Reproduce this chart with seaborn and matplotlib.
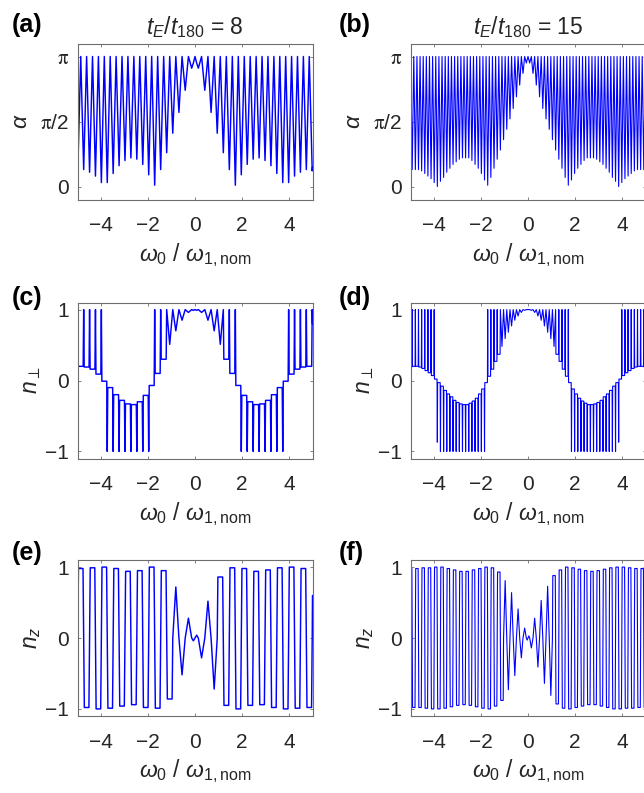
import matplotlib
matplotlib.use("Agg")
import numpy as np
import matplotlib.pyplot as plt
import seaborn as sns

# ---------------------------------------------------------------------------
# Knots of the curves along omega0 / omega1,nom: tooth tops, minima, cusps and
# zero crossings.  alpha is given in units of pi.
# ---------------------------------------------------------------------------

# t_E / t_180 = 8
omega8 = [
    -5.0, -4.988, -4.862, -4.737, -4.612, -4.486, -4.361, -4.236, -4.110, -3.985,
    -3.859, -3.734, -3.608, -3.482, -3.357, -3.231, -3.105, -2.980, -2.854, -2.728,
    -2.602, -2.476, -2.350, -2.223, -2.097, -1.970, -1.843, -1.716, -1.589, -1.461,
    -1.333, -1.205, -1.076, -0.946, -0.816, -0.684, -0.551, -0.417, -0.280, -0.141,
    -0.070, 0.0,
    0.070, 0.141, 0.280, 0.417, 0.551, 0.684, 0.816, 0.946, 1.076, 1.205,
    1.333, 1.461, 1.589, 1.716, 1.843, 1.970, 2.097, 2.223, 2.350, 2.476,
    2.602, 2.728, 2.854, 2.980, 3.105, 3.231, 3.357, 3.482, 3.608, 3.734,
    3.859, 3.985, 4.110, 4.236, 4.361, 4.486, 4.612, 4.737, 4.862, 4.988, 5.0,
]
alpha8_pi = [
    0.15, 0.12, 1, 0.13, 1, 0.11, 1, 0.08, 1, 0.03,
    1, 0.03, 1, 0.10, 1, 0.16, 1, 0.20, 1, 0.22,
    1, 0.21, 1, 0.17, 1, 0.09, 1, 0.01, 1, 0.13,
    1, 0.26, 1, 0.41, 1, 0.57, 1, 0.74, 1, 0.91,
    0.95, 1,
    0.95, 0.91, 1, 0.74, 1, 0.57, 1, 0.41, 1, 0.26,
    1, 0.13, 1, 0.01, 1, 0.09, 1, 0.17, 1, 0.21,
    1, 0.22, 1, 0.20, 1, 0.16, 1, 0.10, 1, 0.03,
    1, 0.03, 1, 0.08, 1, 0.11, 1, 0.13, 1, 0.12, 0.15,
]
nperp8 = [
    0.80, 1, 0.20, 1, 0.19, 1, 0.16, 1, 0.09, 1,
    -0.01, -1, -0.10, -1, -0.20, -1, -0.28, -1, -0.33, -1,
    -0.34, -1, -0.30, -1, -0.21, -1, -0.07, 1, 0.10, 1,
    0.30, 1, 0.51, 1, 0.70, 1, 0.85, 1, 0.96, 1,
    0.99, 1.00,
    0.99, 1, 0.96, 1, 0.85, 1, 0.70, 1, 0.51, 1,
    0.30, 1, 0.10, 1, -0.07, -1, -0.21, -1, -0.30, -1,
    -0.34, -1, -0.33, -1, -0.28, -1, -0.20, -1, -0.10, -1,
    -0.01, 1, 0.09, 1, 0.16, 1, 0.19, 1, 0.20, 1, 0.80,
]
nz8 = [
    -0.60, 0, 0.98, 0, -0.98, 0, 0.99, 0, -1.00, 0,
    1.00, 0, -0.99, 0, 0.98, 0, -0.96, 0, 0.94, 0,
    -0.94, 0, 0.95, 0, -0.98, 0, 1.00, 0, -0.99, 0,
    0.95, 0, -0.86, 0, 0.72, 0, -0.52, 0, 0.28, 0,
    -0.04, 0,
    0.04, 0, -0.28, 0, 0.52, 0, -0.72, 0, 0.86, 0,
    -0.95, 0, 0.99, 0, -1.00, 0, 0.98, 0, -0.95, 0,
    0.94, 0, -0.94, 0, 0.96, 0, -0.98, 0, 0.99, 0,
    -1.00, 0, 1.00, 0, -0.99, 0, 0.98, 0, -0.98, 0, 0.60,
]

# t_E / t_180 = 15
omega15 = [
    -5.0, -4.993, -4.927, -4.860, -4.793, -4.726, -4.660, -4.593, -4.526, -4.459,
    -4.393, -4.326, -4.259, -4.192, -4.125, -4.059, -3.992, -3.925, -3.858, -3.791,
    -3.725, -3.658, -3.591, -3.524, -3.457, -3.390, -3.324, -3.257, -3.190, -3.123,
    -3.056, -2.989, -2.922, -2.855, -2.788, -2.722, -2.655, -2.588, -2.521, -2.454,
    -2.387, -2.320, -2.253, -2.186, -2.118, -2.051, -1.984, -1.917, -1.850, -1.783,
    -1.715, -1.648, -1.581, -1.513, -1.446, -1.378, -1.311, -1.243, -1.176, -1.108,
    -1.040, -0.972, -0.904, -0.836, -0.767, -0.699, -0.630, -0.561, -0.492, -0.422,
    -0.353, -0.283, -0.213, -0.142, -0.071, -0.035,
    0.0,
    0.035, 0.071, 0.142, 0.213, 0.283, 0.353, 0.422, 0.492, 0.561, 0.630,
    0.699, 0.767, 0.836, 0.904, 0.972, 1.040, 1.108, 1.176, 1.243, 1.311,
    1.378, 1.446, 1.513, 1.581, 1.648, 1.715, 1.783, 1.850, 1.917, 1.984,
    2.051, 2.118, 2.186, 2.253, 2.320, 2.387, 2.454, 2.521, 2.588, 2.655,
    2.722, 2.788, 2.855, 2.922, 2.989, 3.056, 3.123, 3.190, 3.257, 3.324,
    3.390, 3.457, 3.524, 3.591, 3.658, 3.725, 3.791, 3.858, 3.925, 3.992,
    4.059, 4.125, 4.192, 4.259, 4.326, 4.393, 4.459, 4.526, 4.593, 4.660,
    4.726, 4.793, 4.860, 4.927, 4.993, 5.0,
]
alpha15_pi = [
    0.91, 1, 0.13, 1, 0.13, 1, 0.13, 1, 0.12, 1,
    0.10, 1, 0.08, 1, 0.06, 1, 0.03, 1, 0.00, 1,
    0.04, 1, 0.07, 1, 0.11, 1, 0.14, 1, 0.17, 1,
    0.19, 1, 0.21, 1, 0.22, 1, 0.22, 1, 0.22, 1,
    0.20, 1, 0.17, 1, 0.14, 1, 0.10, 1, 0.05, 1,
    0.01, 1, 0.07, 1, 0.14, 1, 0.21, 1, 0.28, 1,
    0.36, 1, 0.44, 1, 0.52, 1, 0.60, 1, 0.69, 1,
    0.78, 1, 0.87, 1, 0.95, 0.975,
    1,
    0.975, 0.95, 1, 0.87, 1, 0.78, 1, 0.69, 1, 0.60,
    1, 0.52, 1, 0.44, 1, 0.36, 1, 0.28, 1, 0.21,
    1, 0.14, 1, 0.07, 1, 0.01, 1, 0.05, 1, 0.10,
    1, 0.14, 1, 0.17, 1, 0.20, 1, 0.22, 1, 0.22,
    1, 0.22, 1, 0.21, 1, 0.19, 1, 0.17, 1, 0.14,
    1, 0.11, 1, 0.07, 1, 0.04, 1, 0.00, 1, 0.03,
    1, 0.06, 1, 0.08, 1, 0.10, 1, 0.12, 1, 0.13,
    1, 0.13, 1, 0.13, 1, 0.91,
]
nperp15 = [
    0.20, 0.19, 1, 0.20, 1, 0.20, 1, 0.19, 1, 0.17,
    1, 0.14, 1, 0.11, 1, 0.07, 1, 0.02, -0.87, -0.03,
    -1, -0.08, -1, -0.14, -1, -0.19, -1, -0.23, -1, -0.28,
    -1, -0.31, -1, -0.33, -1, -0.34, -1, -0.34, -1, -0.32,
    -1, -0.29, -1, -0.25, -1, -0.19, -1, -0.12, -1, -0.03,
    1, 0.06, 1, 0.16, 1, 0.27, 1, 0.37, 1, 0.48,
    1, 0.59, 1, 0.68, 1, 0.77, 1, 0.85, 1, 0.91,
    1, 0.96, 1, 0.99, 1, 1.00,
    1.00,
    1.00, 1, 0.99, 1, 0.96, 1, 0.91, 1, 0.85, 1,
    0.77, 1, 0.68, 1, 0.59, 1, 0.48, 1, 0.37, 1,
    0.27, 1, 0.16, 1, 0.06, 1, -0.03, -1, -0.12, -1,
    -0.19, -1, -0.25, -1, -0.29, -1, -0.32, -1, -0.34, -1,
    -0.34, -1, -0.33, -1, -0.31, -1, -0.28, -1, -0.23, -1,
    -0.19, -1, -0.14, -1, -0.08, -1, -0.03, -0.87, 0.02, 1,
    0.07, 1, 0.11, 1, 0.14, 1, 0.17, 1, 0.19, 1,
    0.20, 1, 0.20, 1, 0.19, 0.20,
]
nz15 = [
    0.97, 0.98, 0, -0.98, 0, 0.98, 0, -0.98, 0, 0.99,
    0, -0.99, 0, 0.99, 0, -1.00, 0, 1.00, 0, -1.00,
    0, 1.00, 0, -0.99, 0, 0.98, 0, -0.97, 0, 0.96,
    0, -0.95, 0, 0.94, 0, -0.94, 0, 0.94, 0, -0.95,
    0, 0.96, 0, -0.97, 0, 0.98, 0, -0.99, 0, 1.00,
    0, -1.00, 0, 0.99, 0, -0.96, 0, 0.93, 0, -0.88,
    0, 0.81, 0, -0.73, 0, 0.64, 0, -0.53, 0, 0.41,
    0, -0.28, 0, 0.14, 0, -0.03,
    0,
    0.03, 0, -0.14, 0, 0.28, 0, -0.41, 0, 0.53, 0,
    -0.64, 0, 0.73, 0, -0.81, 0, 0.88, 0, -0.93, 0,
    0.96, 0, -0.99, 0, 1.00, 0, -1.00, 0, 0.99, 0,
    -0.98, 0, 0.97, 0, -0.96, 0, 0.95, 0, -0.94, 0,
    0.94, 0, -0.94, 0, 0.95, 0, -0.96, 0, 0.97, 0,
    -0.98, 0, 0.99, 0, -1.00, 0, 1.00, 0, -1.00, 0,
    1.00, 0, -0.99, 0, 0.99, 0, -0.99, 0, 0.98, 0,
    -0.98, 0, 0.98, 0, -0.98, -0.97,
]

ratios = ["8", "15"]
x_ticks = [-4, -2, 0, 2, 4]
panel_tags = [["(a)", "(b)"], ["(c)", "(d)"], ["(e)", "(f)"]]

for name, arr in [("alpha8", alpha8_pi), ("nperp8", nperp8), ("nz8", nz8)]:
    assert len(arr) == len(omega8), name
for name, arr in [("alpha15", alpha15_pi), ("nperp15", nperp15), ("nz15", nz15)]:
    assert len(arr) == len(omega15), name


# ---------------------------------------------------------------------------
# Path helpers: the rotation-axis components switch very steeply at the cusps
# and zero crossings, so those knots get near-vertical flanks.
# ---------------------------------------------------------------------------
def cusp_path(x, y, edge, floor=0.45):
    px, py = [], []
    n = len(x)
    for i in range(n):
        spike = 0 < i < n - 1 and abs(y[i]) >= 0.85
        if spike and abs(y[i - 1]) < floor and x[i] - edge > x[i - 1]:
            px.append(x[i] - edge)
            py.append(y[i - 1])
        px.append(x[i])
        py.append(y[i])
        if spike and abs(y[i + 1]) < floor and x[i] + edge < x[i + 1]:
            px.append(x[i] + edge)
            py.append(y[i + 1])
    return px, py


def plateau_path(x, y, edge, level=0.85):
    px, py = [], []
    n = len(x)
    for i in range(n):
        cross = 0 < i < n - 1 and y[i] == 0
        if cross and abs(y[i - 1]) >= level and x[i] - edge > x[i - 1]:
            px.append(x[i] - edge)
            py.append(y[i - 1])
        px.append(x[i])
        py.append(y[i])
        if cross and abs(y[i + 1]) >= level and x[i] + edge < x[i + 1]:
            px.append(x[i] + edge)
            py.append(y[i + 1])
    return px, py


# ---------------------------------------------------------------------------
# Styling
# ---------------------------------------------------------------------------
sns.set_theme(style="white")
plt.rcParams["font.family"] = ["Liberation Sans", "DejaVu Sans"]
plt.rcParams["mathtext.fontset"] = "custom"
plt.rcParams["mathtext.rm"] = "Liberation Sans"
plt.rcParams["mathtext.it"] = "Liberation Sans:italic"
plt.rcParams["mathtext.bf"] = "Liberation Sans:bold"
plt.rcParams["mathtext.sf"] = "Liberation Sans"
plt.rcParams["axes.unicode_minus"] = True

SPINE = "#6e6e6e"
TEXT = "#262626"
LINE = "#0000ff"
TICK_FS = 15
LABEL_FS = 16.5

W, H = 644, 793
fig = plt.figure(figsize=(W / 100, H / 100), dpi=100)


def add_axes(left_px, top_px, w_px, h_px):
    return fig.add_axes([left_px / W, 1 - (top_px + h_px) / H, w_px / W, h_px / H])


col_left = [77.5, 410.5]
row_top = [43.5, 302.5, 560.0]
AX_W, AX_H = 235, 156

data = [
    (omega8, alpha8_pi, nperp8, nz8, 0.022, 0.028, 1.05),
    (omega15, alpha15_pi, nperp15, nz15, 0.012, 0.015, 0.8),
]

xlabel = r"$\omega_0$ / $\omega_{\mathrm{1,nom}}$"

for c in range(2):
    om, al, npp, nz, e_perp, e_z, lw = data[c]
    for r in range(3):
        ax = add_axes(col_left[c], row_top[r], AX_W, AX_H)
        if r == 0:
            xs, ys = list(om), [v * np.pi for v in al]
        elif r == 1:
            xs, ys = cusp_path(om, npp, e_perp)
        else:
            xs, ys = plateau_path(om, nz, e_z)
        sns.lineplot(x=xs, y=ys, ax=ax, color=LINE, linewidth=lw,
                     estimator=None, sort=False, legend=False)

        ax.set_xlim(-5, 5)
        ax.set_xticks(x_ticks)
        if r == 0:
            ax.set_ylim(-0.1 * np.pi, 1.1 * np.pi)
            ax.set_yticks([0, np.pi / 2, np.pi])
            ax.set_yticklabels(["0", r"$\mathrm{\pi}$/2", r"$\mathrm{\pi}$"])
            for t in ax.get_yticklabels()[1:]:
                t.set_math_fontfamily("stix")
            ax.set_ylabel(r"$\alpha$", fontsize=LABEL_FS, color=TEXT, labelpad=6)
            ax.set_title(r"$t_E$/$t_{\mathrm{180}}$ = " + ratios[c],
                         fontsize=LABEL_FS, color=TEXT, pad=7)
        elif r == 1:
            ax.set_ylim(-1.1, 1.1)
            ax.set_yticks([-1, 0, 1])
            ax.set_ylabel(r"$n_{\perp}$", fontsize=LABEL_FS, color=TEXT, labelpad=2)
        else:
            ax.set_ylim(-1.1, 1.1)
            ax.set_yticks([-1, 0, 1])
            ax.set_ylabel(r"$n_z$", fontsize=LABEL_FS, color=TEXT, labelpad=2)

        ax.set_xlabel(xlabel, fontsize=LABEL_FS, color=TEXT, labelpad=4)
        ax.tick_params(direction="in", length=2.2, width=0.6, color=SPINE,
                       labelcolor=TEXT, labelsize=TICK_FS, top=True, right=True,
                       bottom=True, left=True)
        ax.tick_params(axis="x", pad=12)
        ax.tick_params(axis="y", pad=6)
        for s in ax.spines.values():
            s.set_visible(True)
            s.set_color(SPINE)
            s.set_linewidth(0.8)

        tag_x = [12, 339][c]
        tag_y = [25, 298, 553][r]
        fig.text(tag_x / W, 1 - tag_y / H, panel_tags[r][c], fontsize=18,
                 fontweight="bold", color="black", ha="left", va="center")

fig.savefig("out.png", dpi=100)
